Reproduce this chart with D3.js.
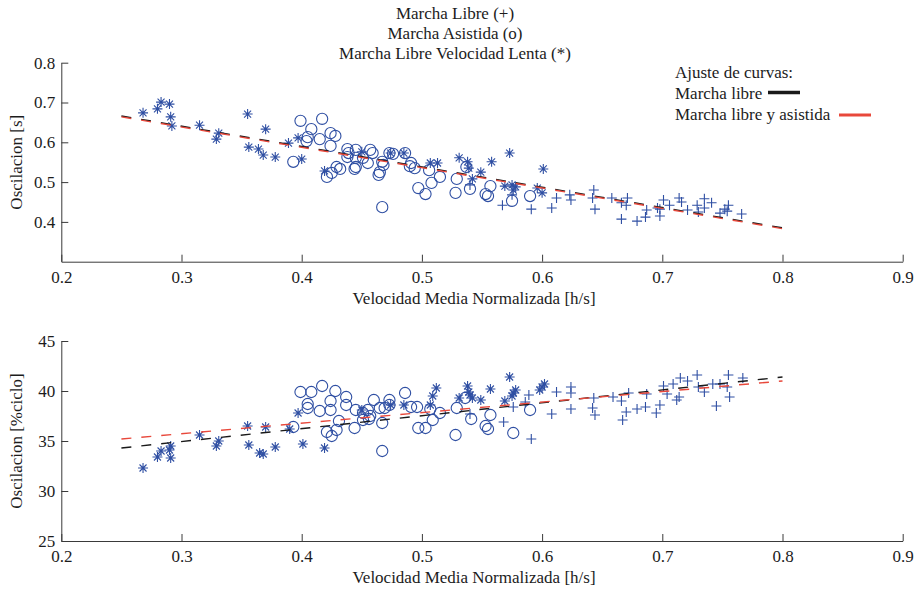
<!DOCTYPE html>
<html>
<head>
<meta charset="utf-8">
<script src="https://cdn.jsdelivr.net/npm/d3@7"></script>
<style>
  html, body { margin: 0; padding: 0; background: #fff; }
  svg { display: block; }
  text { font-family: "Liberation Serif", "Times New Roman", serif; fill: #1c1c1c; }
</style>
</head>
<body>
<svg id="fig" width="915" height="590"></svg>
<script>
// ---- Oscilación: duración [s] ----
// Marcha libre (+)
const libreX_s = [0.540,0.567,0.575,0.591,0.608,0.612,0.623,0.624,0.643,0.642,0.644,0.658,0.666,0.671,0.670,0.666,0.679,0.686,0.687,0.696,0.701,0.698,0.698,0.706,0.714,0.716,0.721,0.729,0.730,0.735,0.735,0.741,0.748,0.752,0.755,0.754,0.766];
const libreY_s = [0.493,0.442,0.468,0.432,0.435,0.460,0.468,0.455,0.480,0.460,0.432,0.460,0.448,0.460,0.442,0.407,0.402,0.412,0.430,0.435,0.455,0.432,0.415,0.442,0.460,0.450,0.430,0.442,0.425,0.458,0.435,0.448,0.422,0.432,0.442,0.427,0.420];
// Marcha asistida (o)
const asistX_s = [0.399,0.417,0.408,0.405,0.404,0.415,0.424,0.428,0.424,0.393,0.438,0.439,0.445,0.438,0.445,0.457,0.459,0.455,0.451,0.429,0.432,0.425,0.421,0.445,0.444,0.467,0.468,0.465,0.464,0.473,0.476,0.486,0.491,0.494,0.490,0.467,0.497,0.503,0.508,0.515,0.506,0.529,0.528,0.540,0.537,0.553,0.555,0.557,0.575,0.590];
const asistY_s = [0.654,0.659,0.633,0.613,0.603,0.608,0.623,0.616,0.591,0.551,0.583,0.573,0.581,0.563,0.561,0.581,0.573,0.548,0.561,0.538,0.533,0.523,0.513,0.538,0.533,0.551,0.543,0.525,0.518,0.573,0.571,0.573,0.548,0.535,0.540,0.437,0.485,0.470,0.498,0.513,0.530,0.508,0.473,0.483,0.538,0.470,0.465,0.490,0.453,0.465];
// Marcha libre, velocidad lenta (*)
const lentaX_s = [0.268,0.280,0.283,0.290,0.291,0.292,0.315,0.331,0.329,0.355,0.370,0.356,0.364,0.368,0.378,0.389,0.397,0.400,0.419,0.450,0.474,0.485,0.507,0.513,0.531,0.538,0.539,0.542,0.549,0.558,0.573,0.569,0.575,0.578,0.576,0.596,0.600,0.601];
const lentaY_s = [0.674,0.684,0.701,0.696,0.664,0.641,0.643,0.623,0.608,0.671,0.633,0.588,0.583,0.568,0.563,0.598,0.611,0.558,0.528,0.576,0.573,0.573,0.548,0.548,0.561,0.551,0.535,0.508,0.525,0.551,0.573,0.490,0.493,0.488,0.480,0.485,0.473,0.533];

// ---- Oscilación: porcentaje del ciclo ----
const libreX_p = [0.540,0.568,0.576,0.591,0.586,0.589,0.608,0.612,0.624,0.624,0.624,0.643,0.642,0.644,0.659,0.666,0.670,0.667,0.672,0.679,0.686,0.687,0.695,0.698,0.701,0.704,0.709,0.712,0.715,0.714,0.721,0.729,0.730,0.735,0.742,0.745,0.748,0.755,0.754,0.756,0.767];
const libreY_p = [37.7,36.9,38.4,35.2,38.9,39.6,37.7,39.9,40.4,39.8,38.2,39.3,38.3,37.6,39.4,39.0,37.9,37.1,39.8,38.2,38.4,39.7,37.8,38.6,40.5,39.7,40.7,39.1,41.3,39.4,41.0,41.6,40.4,39.9,40.7,38.5,40.7,41.6,40.4,39.4,41.3];
const asistX_p = [0.399,0.408,0.417,0.428,0.437,0.405,0.405,0.415,0.424,0.424,0.437,0.431,0.393,0.429,0.421,0.425,0.445,0.451,0.460,0.455,0.457,0.451,0.444,0.467,0.467,0.465,0.473,0.473,0.469,0.486,0.491,0.496,0.497,0.503,0.509,0.507,0.515,0.529,0.528,0.541,0.536,0.553,0.555,0.557,0.576,0.590,0.456];
const asistY_p = [39.9,39.9,40.5,40.0,39.4,38.7,38.3,38.0,39.0,38.1,38.6,37.0,36.4,36.1,35.9,35.5,38.1,37.8,39.1,38.1,37.5,37.1,36.3,36.8,34.0,38.3,39.1,38.6,38.3,39.8,38.4,38.4,36.3,36.3,37.1,38.2,37.8,38.3,35.6,37.2,39.3,36.5,36.2,37.6,35.8,38.1,37.2];
const lentaX_p = [0.268,0.280,0.283,0.290,0.291,0.291,0.315,0.331,0.329,0.355,0.356,0.365,0.368,0.370,0.378,0.390,0.397,0.401,0.419,0.450,0.474,0.485,0.507,0.509,0.512,0.531,0.538,0.539,0.540,0.542,0.549,0.557,0.573,0.569,0.576,0.578,0.575,0.598,0.600,0.602];
const lentaY_p = [32.3,33.4,34.0,34.1,34.5,33.3,35.6,35.0,34.5,36.5,34.6,33.8,33.7,36.4,34.4,36.2,37.8,34.7,34.3,38.1,38.6,38.6,38.6,39.5,40.3,39.3,40.5,39.9,39.6,39.3,39.1,40.2,41.4,39.0,39.8,40.1,39.5,40.1,40.4,40.7];

// ---- Ajustes de curvas (extremos de cada recta) ----
const fitX = [0.25, 0.80];
const fitLibre_s = [0.666, 0.385];
const fitAmbas_s = [0.664, 0.383];
const fitLibre_p = [34.3, 41.4];
const fitAmbas_p = [35.2, 41.0];

const xTicks = [0.2, 0.3, 0.4, 0.5, 0.6, 0.7, 0.8, 0.9];
const yTicks_s = [0.4, 0.5, 0.6, 0.7, 0.8];
const yTicks_p = [25, 30, 35, 40, 45];

const titleLines = ["Marcha Libre (+)", "Marcha Asistida (o)", "Marcha Libre Velocidad Lenta (*)"];
const xLabel = "Velocidad Media Normalizada [h/s]";
const legendTitle = "Ajuste de curvas:";
const legendItems = ["Marcha libre", "Marcha libre y asistida"];

const MARK = "#2f4fa3";
const RED = "#e8483b";
const BLACK = "#1a1a1a";
const AXIS = "#3a3a3a";
const FS = 17;

const svg = d3.select("#fig");
const left = 61.3, right = 902.7;

function panel(cfg) {
  const x = d3.scaleLinear().domain([0.2, 0.9]).range([left, right]);
  const y = d3.scaleLinear().domain(cfg.yDomain).range([cfg.bottom, cfg.top]);
  const g = svg.append("g");

  // axes (box off, ticks pointing inward)
  const xAxis = d3.axisBottom(x).tickValues(xTicks).tickFormat(d3.format(".1f"))
    .tickSize(-7).tickSizeOuter(0).tickPadding(9);
  const yAxis = d3.axisLeft(y).tickValues(cfg.yTicks).tickFormat(cfg.yFormat)
    .tickSize(-7).tickSizeOuter(0).tickPadding(6);
  const gx = g.append("g").attr("transform", `translate(0,${cfg.bottom})`).call(xAxis);
  const gy = g.append("g").attr("transform", `translate(${left},0)`).call(yAxis);
  [gx, gy].forEach(a => {
    a.selectAll("path, line").attr("stroke", AXIS).attr("stroke-width", 1);
    a.selectAll("text").attr("font-size", FS);
  });

  g.append("text").attr("x", 474).attr("y", cfg.bottom + 42)
    .attr("text-anchor", "middle").attr("font-size", FS).text(xLabel);
  g.append("text").attr("transform", `translate(22,${(cfg.top + cfg.bottom) / 2}) rotate(-90)`)
    .attr("text-anchor", "middle").attr("font-size", FS).text(cfg.yLabel);

  const marks = g.append("g").attr("fill", "none").attr("stroke", MARK).attr("stroke-width", 1.1);

  // Marcha asistida: circles
  marks.selectAll("circle").data(d3.zip(cfg.asistX, cfg.asistY)).join("circle")
    .attr("cx", d => x(d[0])).attr("cy", d => y(d[1])).attr("r", 5.6);

  // Marcha libre: plus
  marks.selectAll("path.plus").data(d3.zip(cfg.libreX, cfg.libreY)).join("path")
    .attr("class", "plus")
    .attr("d", d => { const cx = x(d[0]), cy = y(d[1]), r = 5;
      return `M${cx - r},${cy}H${cx + r}M${cx},${cy - r}V${cy + r}`; });

  // Velocidad lenta: asterisk
  marks.selectAll("path.star").data(d3.zip(cfg.lentaX, cfg.lentaY)).join("path")
    .attr("class", "star")
    .attr("d", d => { const cx = x(d[0]), cy = y(d[1]), r = 5, q = 3.5;
      return `M${cx - r},${cy}H${cx + r}M${cx},${cy - r}V${cy + r}` +
             `M${cx - q},${cy - q}L${cx + q},${cy + q}M${cx - q},${cy + q}L${cx + q},${cy - q}`; });

  // fitted curves
  const line = d3.line().x(d => x(d[0])).y(d => y(d[1]));
  [[cfg.fitLibre, BLACK], [cfg.fitAmbas, RED]].forEach(([vals, col]) => {
    g.append("path").datum(d3.zip(fitX, vals)).attr("d", line)
      .attr("fill", "none").attr("stroke", col).attr("stroke-width", 1.4)
      .attr("stroke-dasharray", "10,10");
  });
  return g;
}

panel({
  top: 62.7, bottom: 261.7, yDomain: [0.3, 0.8], yTicks: yTicks_s, yFormat: d3.format(".1f"),
  yLabel: "Oscilacion [s]",
  libreX: libreX_s, libreY: libreY_s, asistX: asistX_s, asistY: asistY_s,
  lentaX: lentaX_s, lentaY: lentaY_s, fitLibre: fitLibre_s, fitAmbas: fitAmbas_s
});
panel({
  top: 341, bottom: 541, yDomain: [25, 45], yTicks: yTicks_p, yFormat: d3.format("d"),
  yLabel: "Oscilacion [%ciclo]",
  libreX: libreX_p, libreY: libreY_p, asistX: asistX_p, asistY: asistY_p,
  lentaX: lentaX_p, lentaY: lentaY_p, fitLibre: fitLibre_p, fitAmbas: fitAmbas_p
});

// title
svg.append("g").selectAll("text").data(titleLines).join("text")
  .attr("x", 455).attr("y", (d, i) => 19 + i * 20)
  .attr("text-anchor", "middle").attr("font-size", FS).text(d => d);

// legend for the fitted curves
const lg = svg.append("g").attr("font-size", FS);
lg.append("text").attr("x", 675).attr("y", 78).text(legendTitle);
lg.append("text").attr("x", 675).attr("y", 99).text(legendItems[0]);
lg.append("text").attr("x", 675).attr("y", 120).text(legendItems[1]);
lg.append("line").attr("x1", 768).attr("x2", 800).attr("y1", 92.5).attr("y2", 92.5)
  .attr("stroke", BLACK).attr("stroke-width", 3.5);
lg.append("line").attr("x1", 839).attr("x2", 871).attr("y1", 115).attr("y2", 115)
  .attr("stroke", RED).attr("stroke-width", 3);
</script>
</body>
</html>
